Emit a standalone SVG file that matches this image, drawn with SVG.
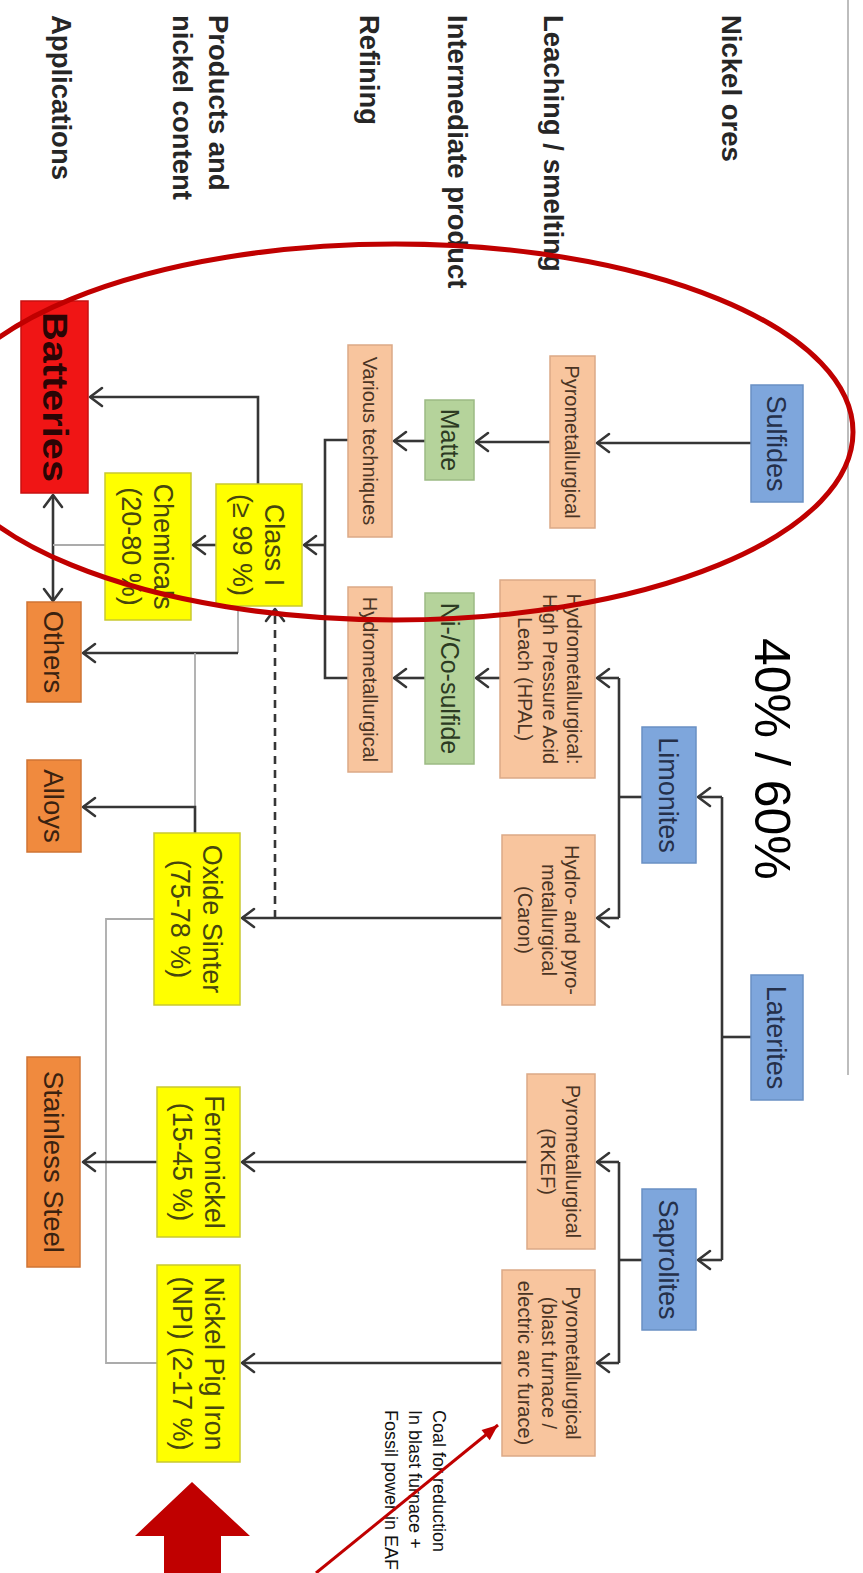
<svg xmlns="http://www.w3.org/2000/svg" width="863" height="1573" viewBox="0 0 863 1573">
<style>
.c{fill:none;stroke:#363636;stroke-width:2.6}
.a{marker-end:url(#ah)}
.g{fill:none;stroke:#ababab;stroke-width:1.8}
.lab{font-family:"Liberation Sans",Arial,sans-serif;font-weight:bold;font-size:27.5px;fill:#262626}
.t{font-family:"Liberation Sans",Arial,sans-serif;text-anchor:middle}
.blue rect{fill:#7ea6dc;stroke:#6a90c4;stroke-width:1.5}
.blue text{font-size:27px;fill:#25304a}
.peach rect{fill:#f8c59e;stroke:#dba987;stroke-width:1.5}
.peach text{font-size:20px;fill:#4a3424}
.green rect{fill:#b5d39b;stroke:#9cba84;stroke-width:1.5}
.green text{font-size:25px;fill:#2c3a22}
.yellow rect{fill:#ffff00;stroke:#c9c930;stroke-width:1.5}
.yellow text{font-size:27px;fill:#46460e}
.orange rect{fill:#f08a3e;stroke:#cf7434;stroke-width:1.5}
.orange text{font-size:27.5px;fill:#3a2210}
.red{fill:none;stroke:#c00000}
.note{font-family:"Liberation Sans",Arial,sans-serif;font-size:18px;fill:#111}
</style>
<defs>
<marker id="ah" viewBox="-14 -11 16 22" refX="0" refY="0" markerWidth="16" markerHeight="22" markerUnits="userSpaceOnUse" orient="auto-start-reverse" overflow="visible">
<path d="M-12,-9 L0,0 L-12,9" fill="none" stroke="#363636" stroke-width="2.6" stroke-linecap="round" stroke-linejoin="round"/>
</marker>
<marker id="rah" viewBox="-17 -8 18 16" refX="0" refY="0" markerWidth="18" markerHeight="16" markerUnits="userSpaceOnUse" orient="auto" overflow="visible">
<path d="M-16,-6.5 L0,0 L-16,6.5 Z" fill="#c00000"/>
</marker>
</defs>
<rect width="863" height="1573" fill="#ffffff"/>
<line x1="848" y1="0" x2="848" y2="1075" stroke="#bdbdbd" stroke-width="2"/>

<g id="row-labels">
<text class="lab" transform="translate(722,15) rotate(90)">Nickel ores</text>
<text class="lab" transform="translate(544,15) rotate(90)">Leaching / smelting</text>
<text class="lab" transform="translate(448,15) rotate(90)">Intermediate product</text>
<text class="lab" transform="translate(360,15) rotate(90)">Refining</text>
<text class="lab" transform="translate(208.5,15) rotate(90)">Products and</text>
<text class="lab" transform="translate(173,15) rotate(90)">nickel content</text>
<text class="lab" transform="translate(52,15) rotate(90)">Applications</text>
</g>

<g id="connectors">
<path class="c a" d="M751,443 H597"/>
<path class="c a" d="M550,442 H476"/>
<path class="c a" d="M425,441 H394"/>
<path class="c" d="M348,440 H325 V678 H348"/>
<path class="c a" d="M325,545 H304"/>
<path class="c a" d="M258,484 V397 H90"/>
<path class="c a" d="M216,545 H193"/>
<path class="c a" d="M53,601 V495" style="marker-start:url(#ah)"/>
<path class="g" d="M105,545 H53"/>
<path class="g" d="M238,606 V653"/>
<path class="c a" d="M238,653 H83"/>
<path class="g" d="M195,807 V653"/>
<path class="c a" d="M195,833 V807 H83"/>
<path class="g" d="M154,919 H106 V1363 H157"/>
<path class="c a" d="M275,918 V609" stroke-dasharray="8 6"/>
<path class="c a" d="M502,918 H242"/>
<path class="c a" d="M500,678 H476"/>
<path class="c a" d="M425,678 H394"/>
<path class="c" d="M642,797 H619"/>
<path class="c" d="M619,678 V918"/>
<path class="c a" d="M619,678 H597"/>
<path class="c a" d="M619,918 H597"/>
<path class="c" d="M751,1037 H722"/>
<path class="c" d="M722,797 V1260"/>
<path class="c a" d="M722,797 H698"/>
<path class="c a" d="M722,1260 H698"/>
<path class="c" d="M642,1260 H619"/>
<path class="c" d="M619,1162 V1363"/>
<path class="c a" d="M619,1162 H597"/>
<path class="c a" d="M619,1363 H597"/>
<path class="c a" d="M527,1162 H242"/>
<path class="c a" d="M157,1162 H83"/>
<path class="c a" d="M502,1363 H242"/>
</g>

<g id="sulfides" class="blue"><rect x="751" y="385" width="52" height="117"/><text class="t" transform="translate(767.3,443.5) rotate(90)">Sulfides</text></g>
<g id="limonites" class="blue"><rect x="642" y="727" width="54" height="136"/><text class="t" transform="translate(659.3,795) rotate(90)">Limonites</text></g>
<g id="laterites" class="blue"><rect x="751" y="975" width="52" height="125"/><text class="t" transform="translate(767.3,1037.5) rotate(90)">Laterites</text></g>
<g id="saprolites" class="blue"><rect x="642" y="1189" width="54" height="141"/><text class="t" transform="translate(659.3,1259.5) rotate(90)">Saprolites</text></g>

<g id="pyro-sulfide" class="peach"><rect x="550" y="356" width="45" height="172"/><text class="t" transform="translate(565.3,442) rotate(90)">Pyrometallurgical</text></g>
<g id="hpal" class="peach"><rect x="500" y="580" width="95" height="198"/>
<text class="t" transform="translate(567.3,679) rotate(90)">Hydrometallurgical:</text>
<text class="t" transform="translate(542.8,679) rotate(90)">High Pressure Acid</text>
<text class="t" transform="translate(518.3,679) rotate(90)">Leach (HPAL)</text></g>
<g id="caron" class="peach"><rect x="502" y="835" width="93" height="170"/>
<text class="t" transform="translate(565.3,920) rotate(90)">Hydro- and pyro-</text>
<text class="t" transform="translate(541.8,920) rotate(90)">metallurgical</text>
<text class="t" transform="translate(518.3,920) rotate(90)">(Caron)</text></g>
<g id="rkef" class="peach"><rect x="527" y="1074" width="68" height="175"/>
<text class="t" transform="translate(566,1161.5) rotate(90)">Pyrometallurgical</text>
<text class="t" transform="translate(541,1161.5) rotate(90)">(RKEF)</text></g>
<g id="blast" class="peach"><rect x="502" y="1270" width="93" height="186"/>
<text class="t" transform="translate(566,1363) rotate(90)">Pyrometallurgical</text>
<text class="t" transform="translate(542,1363) rotate(90)">(blast furnace /</text>
<text class="t" transform="translate(518,1363) rotate(90)">electric arc furace)</text></g>
<g id="various" class="peach"><rect x="348" y="345" width="44" height="192"/><text class="t" transform="translate(362.8,441) rotate(90)">Various techniques</text></g>
<g id="hydromet" class="peach"><rect x="348" y="587" width="44" height="185"/><text class="t" transform="translate(362.8,679.5) rotate(90)">Hydrometallurgical</text></g>

<g id="matte" class="green"><rect x="425" y="400" width="49" height="80"/><text class="t" transform="translate(440.5,440) rotate(90)">Matte</text></g>
<g id="nico-sulfide" class="green"><rect x="425" y="593" width="49" height="171"/><text class="t" transform="translate(440.5,678.5) rotate(90)">Ni-/Co-sulfide</text></g>

<g id="class1" class="yellow"><rect x="216" y="484" width="86" height="122"/>
<text class="t" transform="translate(265.3,545) rotate(90)">Class I</text>
<text class="t" transform="translate(233.3,545) rotate(90)">(≥ 99 %)</text></g>
<g id="chemicals" class="yellow"><rect x="105" y="473" width="86" height="147"/>
<text class="t" transform="translate(154.3,546.5) rotate(90)">Chemicals</text>
<text class="t" transform="translate(122.3,546.5) rotate(90)">(20-80 %)</text></g>
<g id="oxide-sinter" class="yellow"><rect x="154" y="833" width="86" height="172"/>
<text class="t" transform="translate(203.3,919) rotate(90)">Oxide Sinter</text>
<text class="t" transform="translate(171.3,919) rotate(90)">(75-78 %)</text></g>
<g id="ferronickel" class="yellow"><rect x="157" y="1087" width="83" height="150"/>
<text class="t" transform="translate(205,1162) rotate(90)">Ferronickel</text>
<text class="t" transform="translate(173,1162) rotate(90)">(15-45 %)</text></g>
<g id="npi" class="yellow"><rect x="157" y="1265" width="83" height="197"/>
<text class="t" transform="translate(205,1363.5) rotate(90)">Nickel Pig Iron</text>
<text class="t" transform="translate(173,1363.5) rotate(90)">(NPI) (2-17 %)</text></g>

<g id="batteries"><rect x="21" y="301" width="67" height="192" fill="#f01515" stroke="#c81010" stroke-width="1.5"/>
<text class="t" transform="translate(42.5,397) rotate(90)" style="font-size:35px;font-weight:bold;fill:#2a0505" textLength="170" lengthAdjust="spacingAndGlyphs">Batteries</text></g>
<g id="others" class="orange"><rect x="27" y="602" width="54" height="100"/><text class="t" transform="translate(44.2,652) rotate(90)">Others</text></g>
<g id="alloys" class="orange"><rect x="27" y="760" width="54" height="92"/><text class="t" transform="translate(44.2,806) rotate(90)">Alloys</text></g>
<g id="stainless" class="orange"><rect x="27" y="1057" width="53" height="210"/><text class="t" transform="translate(43.7,1162) rotate(90)">Stainless Steel</text></g>

<g id="overlays">
<text transform="translate(755,638) rotate(90)" style="font-family:'Liberation Sans',Arial,sans-serif;font-size:50px;fill:#000">40% / 60%</text>
<ellipse class="red" cx="395" cy="432" rx="458" ry="188" stroke-width="5"/>
<text class="note" transform="translate(433,1410) rotate(90)">Coal for reduction</text>
<text class="note" transform="translate(409,1410) rotate(90)">In blast furnace +</text>
<text class="note" transform="translate(385,1410) rotate(90)">Fossil power in EAF</text>
<line x1="316" y1="1573" x2="498" y2="1425" stroke="#c00000" stroke-width="3" marker-end="url(#rah)"/>
<polygon points="192,1482 250,1536 221,1536 221,1573 164,1573 164,1536 135,1536" fill="#c00000"/>
</g>
</svg>
